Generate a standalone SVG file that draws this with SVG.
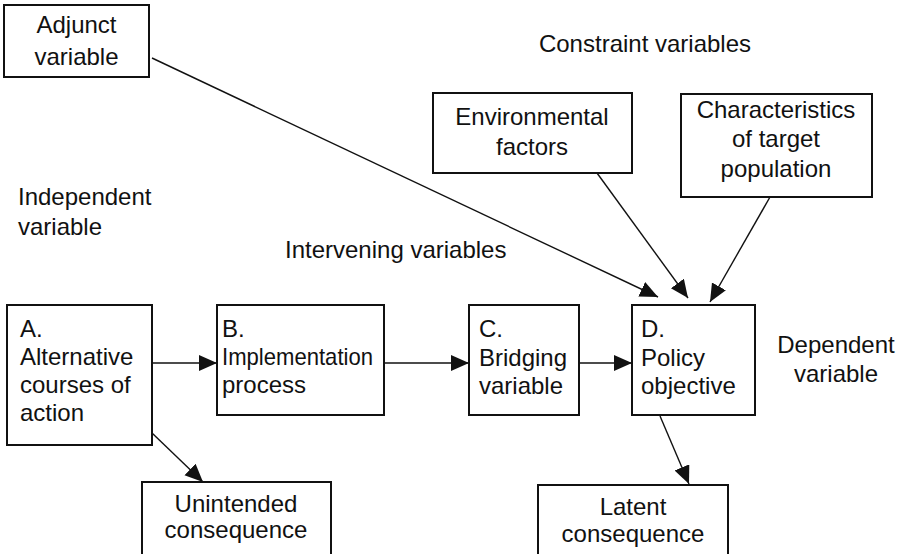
<svg xmlns="http://www.w3.org/2000/svg" width="907" height="554" viewBox="0 0 907 554">
<style>
  text { font-family: "Liberation Sans", Arial, Helvetica, sans-serif; font-size: 24px; fill: #111; }
  .c { text-anchor: middle; }
  .box { fill: #fff; stroke: #111; stroke-width: 2; }
  .edge { fill: none; stroke: #111; stroke-width: 1.4; }
</style>
<defs>
  <marker id="ah" markerUnits="userSpaceOnUse" markerWidth="20" markerHeight="18" refX="18" refY="8" orient="auto">
    <path d="M0,0 L18,8 L0,16 Z" fill="#111"/>
  </marker>
</defs>
<rect width="907" height="554" fill="#fff"/>

<g id="labels">
  <text x="645" y="52" class="c">Constraint variables</text>
  <text x="18" y="205">Independent</text>
  <text x="18" y="235">variable</text>
  <text x="285" y="258">Intervening variables</text>
  <text x="836" y="353" class="c">Dependent</text>
  <text x="836" y="382" class="c">variable</text>
</g>

<g id="connectors">
  <line class="edge" x1="152" y1="58" x2="658" y2="297" marker-end="url(#ah)"/>
  <line class="edge" x1="597" y1="173" x2="688" y2="298" marker-end="url(#ah)"/>
  <line class="edge" x1="770" y1="197" x2="710" y2="302" marker-end="url(#ah)"/>
  <line class="edge" x1="152" y1="363" x2="217" y2="363" marker-end="url(#ah)"/>
  <line class="edge" x1="384" y1="363" x2="469" y2="363" marker-end="url(#ah)"/>
  <line class="edge" x1="579" y1="363" x2="632" y2="363" marker-end="url(#ah)"/>
  <line class="edge" x1="152" y1="433" x2="203" y2="482" marker-end="url(#ah)"/>
  <line class="edge" x1="660" y1="416" x2="689" y2="484" marker-end="url(#ah)"/>
</g>

<g id="adjunct">
  <rect class="box" x="4" y="5" width="145" height="72"/>
  <text x="76.5" y="33" class="c">Adjunct</text>
  <text x="76.5" y="65" class="c">variable</text>
</g>

<g id="environmental">
  <rect class="box" x="433" y="93" width="199" height="80"/>
  <text x="532" y="125" class="c">Environmental</text>
  <text x="532" y="155" class="c">factors</text>
</g>

<g id="characteristics">
  <rect class="box" x="681" y="94" width="191" height="103"/>
  <text x="776" y="118" class="c">Characteristics</text>
  <text x="776" y="147" class="c">of target</text>
  <text x="776" y="177" class="c">population</text>
</g>

<g id="nodeA">
  <rect class="box" x="7" y="305" width="145" height="140"/>
  <text x="20" y="337">A.</text>
  <text x="20" y="365">Alternative</text>
  <text x="20" y="393">courses of</text>
  <text x="20" y="421">action</text>
</g>

<g id="nodeB">
  <rect class="box" x="217" y="305" width="167" height="110"/>
  <text x="222" y="337">B.</text>
  <text x="222" y="365" textLength="151" lengthAdjust="spacingAndGlyphs">Implementation</text>
  <text x="222" y="393">process</text>
</g>

<g id="nodeC">
  <rect class="box" x="469" y="305" width="110" height="110"/>
  <text x="479" y="337">C.</text>
  <text x="479" y="366">Bridging</text>
  <text x="479" y="394">variable</text>
</g>

<g id="nodeD">
  <rect class="box" x="632" y="305" width="123" height="110"/>
  <text x="641" y="337">D.</text>
  <text x="641" y="366">Policy</text>
  <text x="641" y="394">objective</text>
</g>

<g id="unintended">
  <rect class="box" x="142" y="482" width="189" height="80"/>
  <text x="236" y="512" class="c">Unintended</text>
  <text x="236" y="538" class="c">consequence</text>
</g>

<g id="latent">
  <rect class="box" x="538" y="485" width="190" height="80"/>
  <text x="633" y="515" class="c">Latent</text>
  <text x="633" y="542" class="c">consequence</text>
</g>
</svg>
